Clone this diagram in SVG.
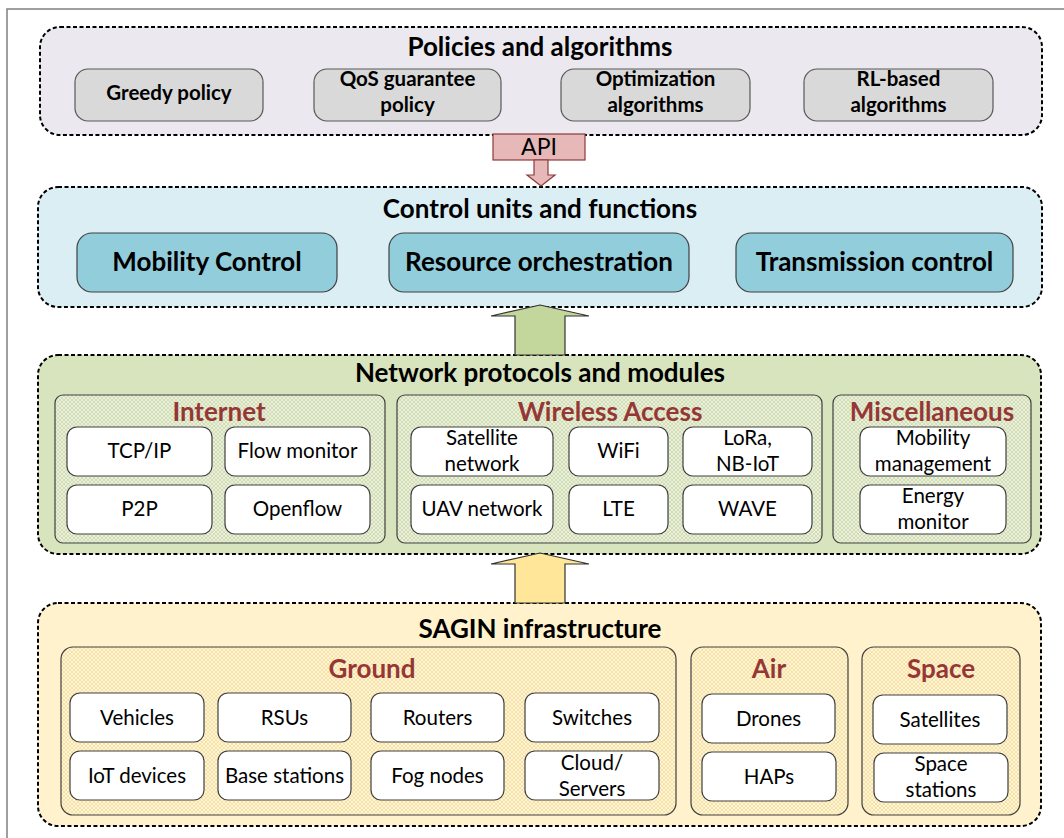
<svg xmlns="http://www.w3.org/2000/svg" width="1064" height="838" viewBox="0 0 1064 838">
<defs>
<pattern id="hatchG" width="4" height="4" patternUnits="userSpaceOnUse">
<rect width="4" height="4" fill="#EAF0DB"/>
<path d="M0,0 L4,4 M4,0 L0,4" stroke="#C6D6A3" stroke-width="0.7"/>
</pattern>
<pattern id="hatchY" width="4" height="4" patternUnits="userSpaceOnUse">
<rect width="4" height="4" fill="#FFF5D8"/>
<path d="M0,0 L4,4 M4,0 L0,4" stroke="#F4D88F" stroke-width="0.7"/>
</pattern>
<style>
.layer{stroke:#000;stroke-width:2;stroke-dasharray:4 2.5}
.ttl{font-family:Lato,"Liberation Sans",sans-serif;font-weight:bold;font-size:26px;fill:#000;text-anchor:middle}
.ptl{font-family:Lato,"Liberation Sans",sans-serif;font-weight:bold;font-size:26px;fill:#953735;text-anchor:middle}
.pol{fill:#D9D9D9;stroke:#595959;stroke-width:1.2}
.polt{font-family:Lato,"Liberation Sans",sans-serif;font-weight:bold;font-size:20.5px;fill:#000;text-anchor:middle}
.ctl{fill:#92CDDC;stroke:#404040;stroke-width:1.2}
.panG{fill:url(#hatchG);stroke:#404040;stroke-width:1.2}
.panY{fill:url(#hatchY);stroke:#404040;stroke-width:1.2}
.box{fill:#fff;stroke:#404040;stroke-width:1.2}
.bt{font-family:Lato,"Liberation Sans",sans-serif;font-size:20.5px;fill:#000;text-anchor:middle}
.arr{stroke:#333;stroke-width:1.2}
</style>
</defs>
<rect width="1064" height="838" fill="#fff"/>
<rect x="7" y="9" width="1100" height="900" fill="none" stroke="#808080" stroke-width="1.5"/>

<g id="policies">
<rect class="layer" x="40" y="27" width="1002" height="108" rx="20" fill="#EBE8EF"/>
<text class="ttl" x="540" y="56">Policies and algorithms</text>
<g id="greedy"><rect class="pol" x="75" y="69" width="188" height="52" rx="13"/><text class="polt" x="169" y="100">Greedy policy</text></g>
<g id="qos"><rect class="pol" x="314" y="69" width="187" height="52" rx="13"/><text class="polt" x="407.5" y="86">QoS guarantee</text><text class="polt" x="407.5" y="112">policy</text></g>
<g id="optim"><rect class="pol" x="561" y="69" width="189" height="52" rx="13"/><text class="polt" x="655.5" y="86">Optimization</text><text class="polt" x="655.5" y="112">algorithms</text></g>
<g id="rl"><rect class="pol" x="804" y="69" width="189" height="52" rx="13"/><text class="polt" x="898.5" y="86">RL-based</text><text class="polt" x="898.5" y="112">algorithms</text></g>
</g>

<g id="control">
<rect class="layer" x="38" y="187" width="1004" height="120" rx="20" fill="#DBEEF4"/>
<text class="ttl" x="540" y="218">Control units and functions</text>
<g id="mobility"><rect class="ctl" x="77" y="233" width="260" height="59" rx="15"/><text class="ttl" x="207" y="271">Mobility Control</text></g>
<g id="resource"><rect class="ctl" x="389" y="233" width="300" height="59" rx="15"/><text class="ttl" x="539" y="271">Resource orchestration</text></g>
<g id="transmission"><rect class="ctl" x="736" y="233" width="277" height="59" rx="15"/><text class="ttl" x="874.5" y="271">Transmission control</text></g>
</g>

<g id="network">
<rect class="layer" x="38" y="355" width="1003" height="199" rx="20" fill="#D7E4BD"/>
<text class="ttl" x="540" y="382">Network protocols and modules</text>
<g id="internet">
<rect class="panG" x="55" y="395" width="330" height="148" rx="8"/>
<text class="ptl" x="219" y="421">Internet</text>
<g id="tcpip"><rect class="box" x="67" y="427" width="145" height="49" rx="10"/><text class="bt" x="139.5" y="458">TCP/IP</text></g>
<g id="flowmon"><rect class="box" x="225" y="427" width="145" height="49" rx="10"/><text class="bt" x="297.5" y="458">Flow monitor</text></g>
<g id="p2p"><rect class="box" x="67" y="485" width="145" height="49" rx="10"/><text class="bt" x="139.5" y="516">P2P</text></g>
<g id="openflow"><rect class="box" x="225" y="485" width="145" height="49" rx="10"/><text class="bt" x="297.5" y="516">Openflow</text></g>
</g>
<g id="wireless">
<rect class="panG" x="397" y="395" width="425" height="148" rx="8"/>
<text class="ptl" x="610" y="421">Wireless Access</text>
<g id="satnet"><rect class="box" x="411" y="427" width="142" height="49" rx="10"/><text class="bt" x="482" y="445">Satellite</text><text class="bt" x="482" y="471">network</text></g>
<g id="wifi"><rect class="box" x="569" y="427" width="99" height="49" rx="10"/><text class="bt" x="618.5" y="458">WiFi</text></g>
<g id="lora"><rect class="box" x="683" y="427" width="129" height="49" rx="10"/><text class="bt" x="747.5" y="445">LoRa,</text><text class="bt" x="747.5" y="471">NB-IoT</text></g>
<g id="uav"><rect class="box" x="411" y="485" width="142" height="49" rx="10"/><text class="bt" x="482" y="516">UAV network</text></g>
<g id="lte"><rect class="box" x="569" y="485" width="99" height="49" rx="10"/><text class="bt" x="618.5" y="516">LTE</text></g>
<g id="wave"><rect class="box" x="683" y="485" width="129" height="49" rx="10"/><text class="bt" x="747.5" y="516">WAVE</text></g>
</g>
<g id="misc">
<rect class="panG" x="833" y="395" width="198" height="148" rx="8"/>
<text class="ptl" x="932" y="421">Miscellaneous</text>
<g id="mobmgmt"><rect class="box" x="860" y="427" width="146" height="49" rx="10"/><text class="bt" x="933" y="445">Mobility</text><text class="bt" x="933" y="471">management</text></g>
<g id="energy"><rect class="box" x="860" y="485" width="146" height="49" rx="10"/><text class="bt" x="933" y="503">Energy</text><text class="bt" x="933" y="529">monitor</text></g>
</g>
</g>

<g id="sagin">
<rect class="layer" x="38" y="603" width="1003" height="223" rx="20" fill="#FFF2CC"/>
<text class="ttl" x="540" y="638">SAGIN infrastructure</text>
<g id="ground">
<rect class="panY" x="61" y="647" width="615" height="168" rx="12"/>
<text class="ptl" x="372" y="678">Ground</text>
<g id="vehicles"><rect class="box" x="70" y="693" width="134" height="49" rx="10"/><text class="bt" x="137" y="725">Vehicles</text></g>
<g id="rsus"><rect class="box" x="218" y="693" width="133" height="49" rx="10"/><text class="bt" x="284.5" y="725">RSUs</text></g>
<g id="routers"><rect class="box" x="371" y="693" width="133" height="49" rx="10"/><text class="bt" x="437.5" y="725">Routers</text></g>
<g id="switches"><rect class="box" x="525" y="693" width="134" height="49" rx="10"/><text class="bt" x="592" y="725">Switches</text></g>
<g id="iot"><rect class="box" x="70" y="751" width="134" height="49" rx="10"/><text class="bt" x="137" y="783">IoT devices</text></g>
<g id="bs"><rect class="box" x="218" y="751" width="133" height="49" rx="10"/><text class="bt" x="284.5" y="783">Base stations</text></g>
<g id="fog"><rect class="box" x="371" y="751" width="133" height="49" rx="10"/><text class="bt" x="437.5" y="783">Fog nodes</text></g>
<g id="cloud"><rect class="box" x="525" y="751" width="134" height="49" rx="10"/><text class="bt" x="592" y="770">Cloud/</text><text class="bt" x="592" y="796">Servers</text></g>
</g>
<g id="air">
<rect class="panY" x="691" y="647" width="157" height="168" rx="12"/>
<text class="ptl" x="769" y="678">Air</text>
<g id="drones"><rect class="box" x="702" y="694" width="133" height="49" rx="10"/><text class="bt" x="768.5" y="726">Drones</text></g>
<g id="haps"><rect class="box" x="702" y="752" width="134" height="49" rx="10"/><text class="bt" x="769" y="784">HAPs</text></g>
</g>
<g id="space">
<rect class="panY" x="862" y="647" width="158" height="168" rx="12"/>
<text class="ptl" x="941" y="678">Space</text>
<g id="satellites"><rect class="box" x="873" y="695" width="134" height="49" rx="10"/><text class="bt" x="940" y="727">Satellites</text></g>
<g id="spacest"><rect class="box" x="874" y="753" width="134" height="49" rx="10"/><text class="bt" x="941" y="771">Space</text><text class="bt" x="941" y="797">stations</text></g>
</g>
</g>

<g id="connectors">
<g id="api">
<rect x="493" y="134" width="92" height="26" fill="#E6B9B8" stroke="#8C3A3A" stroke-width="1.2"/>
<text x="539" y="155" font-family="Lato,'Liberation Sans',sans-serif" font-size="23" text-anchor="middle" fill="#000">API</text>
<polygon points="534,160 548,160 548,175 555,175 541,186 527,175 534,175" fill="#E6B9B8" stroke="#8C3A3A" stroke-width="1.2"/>
</g>
<polygon class="arr" points="540,305 589,316 565,316 565,355 515,355 515,316 491,316" fill="#C3D69B"/>
<polygon class="arr" points="540,553 589,564 565,564 565,603 515,603 515,564 491,564" fill="#FFE699"/>
</g>
</svg>
